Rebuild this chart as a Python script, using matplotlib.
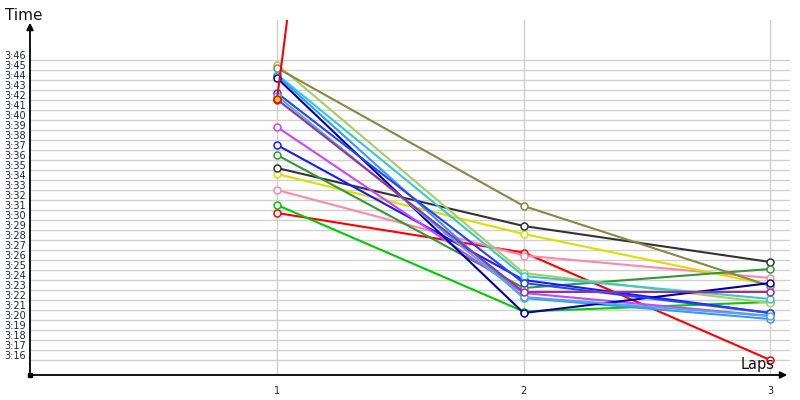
import numpy as np
import matplotlib.pyplot as plt
from matplotlib.transforms import ScaledTranslation

# lap times in seconds (3:16 = 196 s), one list per driver
laps = [1, 2, 3]
tick_seconds = list(range(196, 227))
tick_labels = [f"{s // 60}:{s % 60:02d}" for s in tick_seconds]

series_colors = [
    "#ff0000", "#00cc00", "#ff88aa", "#dddd00", "#333333", "#339933",
    "#1a1aff", "#cc44ff", "#aacc66", "#888844", "#33cccc", "#3399ff",
    "#0000aa", "#2244ff", "#55aadd", "#993399",
]
series_times = [
    [210.7, 206.75, 196.0],
    [211.5, 200.85, 201.8],
    [213.0, 206.45, 204.2],
    [214.6, 208.6, 203.5],
    [215.2, 209.4, 205.8],
    [216.5, 203.2, 205.1],
    [217.5, 204.0, 200.7],
    [219.3, 202.7, 200.4],
    [225.55, 204.7, 201.7],
    [225.2, 211.4, 203.4],
    [224.55, 204.4, 202.1],
    [224.45, 202.2, 200.1],
    [224.2, 200.7, 203.7],
    [222.7, 203.7, 200.7],
    [222.4, 202.3, 200.4],
    [222.05, 202.8, 202.8],
]
# driver with a very slow second lap (leaves the chart)
slow_laps = [1, 2]
slow_times = [222.1, 416.0]

fig = plt.figure(figsize=(8, 4), dpi=100)
ax = fig.add_axes([30 / 800, 25 / 400, 760 / 800, 355 / 400])
ax.set_xlim(-0.002, 3.08)
ax.set_ylim(194.5, 230)

for s in tick_seconds:
    ax.axhline(s, color="#d0d0d0", lw=1, zorder=0)
for x in laps:
    ax.axvline(x, color="#d0d0d0", lw=1, zorder=0)

for color, times in zip(series_colors, series_times):
    ax.plot(laps, times, color=color, lw=1.5, marker="o", ms=5,
            mfc="white", mec=color, mew=1.1, zorder=3)
ax.plot(slow_laps, slow_times, color="#ff0000", lw=1.5, marker="o", ms=5,
        mfc="#ffd700", mec="#ff0000", mew=1.1, zorder=4)

for side in ax.spines.values():
    side.set_visible(False)

ax.set_xticks(laps, [str(x) for x in laps])
ax.set_yticks(tick_seconds, tick_labels)
ax.tick_params(length=0, labelsize=7, labelcolor="#202050")
ax.tick_params(axis="x", pad=8)
ax.tick_params(axis="y", pad=3)
shift = ScaledTranslation(0, 5 / 100, fig.dpi_scale_trans)
for lab in ax.get_yticklabels():
    lab.set_transform(lab.get_transform() + shift)

arrow = dict(arrowstyle="-|>", color="black", lw=1.3, mutation_scale=10)
ax.annotate("", xy=(0, 1.0), xytext=(0, 0), xycoords="axes fraction",
            arrowprops=arrow, annotation_clip=False)
ax.annotate("", xy=(1.0, 0), xytext=(0, 0), xycoords="axes fraction",
            arrowprops=arrow, annotation_clip=False)
ax.plot([0], [0], marker="s", ms=3.5, color="black", transform=ax.transAxes,
        clip_on=False, zorder=6)

fig.text(5 / 800, 1 - 15 / 400, "Time", fontsize=11, va="center", ha="left",
         color="#1a1010")
fig.text(775 / 800, 1 - 365 / 400, "Laps", fontsize=10.5, va="center", ha="right",
         color="#1a1010")

fig.savefig("out.png", dpi=100)
